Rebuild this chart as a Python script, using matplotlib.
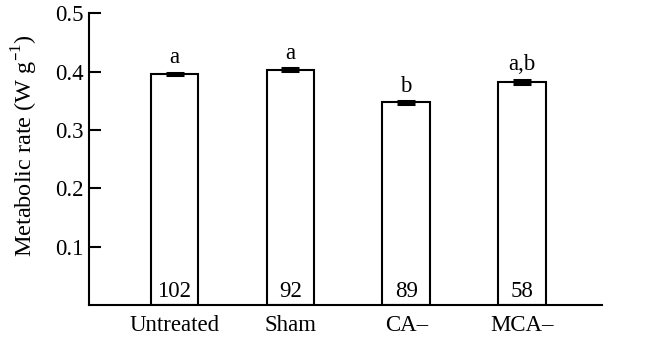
import matplotlib
matplotlib.use("Agg")
import matplotlib.pyplot as plt

categories = ["Untreated", "Sham", "CA\u2013", "MCA\u2013"]
values = [0.396, 0.403, 0.3475, 0.383]
errors = [0.0025, 0.0025, 0.0025, 0.0035]
letters = ["a", "a", "b", "a,b"]
counts = ["102", "92", "89", "58"]
yticks = [0.1, 0.2, 0.3, 0.4, 0.5]

plt.rcParams['font.family'] = ['Liberation Serif', 'DejaVu Serif']
fs = 16.5

fig = plt.figure(figsize=(6.53, 3.39), dpi=100)
ax = fig.add_axes([0.1363, 0.1003, 0.9219 - 0.1363, 0.9608 - 0.1003])

x = list(range(len(categories)))
ax.bar(x, values, width=0.41, color='white', edgecolor='black', linewidth=1.5, zorder=2)
ax.errorbar(x, values, yerr=errors, fmt='none', ecolor='black', elinewidth=1.5,
            capsize=6.5, capthick=2.2, zorder=3)

for xi, v, e, lab in zip(x, values, errors, letters):
    ax.annotate(lab, (xi, v + e), xytext=(0, 3), textcoords='offset points',
                ha='center', va='bottom', fontsize=fs)
for xi, c in zip(x, counts):
    ax.annotate(c, (xi, 0), xytext=(0, 2), textcoords='offset points',
                ha='center', va='bottom', fontsize=fs)

ax.set_xlim(-0.738, 3.69)
ax.set_ylim(0, 0.5)
ax.set_yticks(yticks)
ax.set_yticklabels([f"{t:.1f}" for t in yticks], fontsize=fs)
ax.set_xticks(x)
ax.set_xticklabels(categories, fontsize=fs)
ax.tick_params(axis='y', direction='in', length=8.5, width=1.5, pad=4)
ax.tick_params(axis='x', length=0, pad=7)
for s in ['top', 'right']:
    ax.spines[s].set_visible(False)
for s in ['left', 'bottom']:
    ax.spines[s].set_linewidth(1.5)
ax.set_ylabel("Metabolic rate (W g$^{\u2013\\mathregular{1}}$)", fontsize=17.5)
ax.yaxis.set_label_coords(-0.095, 0.545)

fig.savefig("out.png", dpi=100)
